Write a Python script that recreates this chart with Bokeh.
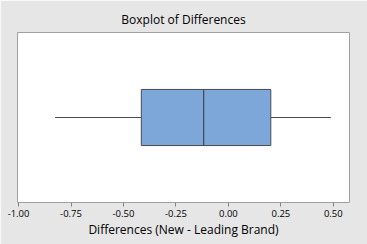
from bokeh.plotting import figure
from bokeh.models import Range1d, FixedTicker
from bokeh.embed import file_html
from bokeh.resources import INLINE

# data
whisker_low = [-0.826]
q1 = [-0.415]
median = [-0.118]
q3 = [0.202]
whisker_high = [0.488]
ypos = [0.5]
ticks = [-1.0, -0.75, -0.5, -0.25, 0.0, 0.25, 0.5]
tick_labels = {-1.0: "-1.00", -0.75: "-0.75", -0.5: "-0.50", -0.25: "-0.25",
               0.0: "0.00", 0.25: "0.25", 0.5: "0.50"}

p = figure(width=367, height=244, output_backend="svg", toolbar_location=None,
           x_range=Range1d(-1.005, 0.577), y_range=Range1d(0, 1),
           min_border_left=17, min_border_right=18, min_border_top=32, min_border_bottom=42)

p.background_fill_color = "white"
p.border_fill_color = "#e6e6e6"
p.outline_line_color = "#a0a0a0"
p.outline_line_width = 1
p.grid.visible = False
p.yaxis.visible = False

p.title.text = "Boxplot of Differences"
p.title.align = "center"
p.title.text_font = "Open Sans"
p.title.text_font_size = "12px"
p.title.text_font_style = "normal"
p.title.text_color = "#000000"
p.title.offset = 0

# whiskers
p.segment(x0=whisker_low, y0=ypos, x1=q1, y1=ypos, line_color="#4a4a50", line_width=1)
p.segment(x0=q3, y0=ypos, x1=whisker_high, y1=ypos, line_color="#4a4a50", line_width=1)
# box
p.hbar(y=ypos, left=q1, right=q3, height=0.33, fill_color="#7da7d9",
       line_color="#4a4a50", line_width=1)
# median
p.hbar(y=ypos, left=median, right=median, height=0.33, fill_alpha=0,
       line_color="#4a4a50", line_width=1)

ax = p.xaxis[0]
ax.ticker = FixedTicker(ticks=ticks)
ax.major_label_overrides = tick_labels
ax.axis_label = "Differences (New - Leading Brand)"
ax.axis_label_text_font = "Open Sans"
ax.axis_label_text_font_size = "12px"
ax.axis_label_text_font_style = "normal"
ax.axis_label_text_color = "#000000"
ax.axis_label_standoff = 1
ax.major_label_text_font = "Open Sans"
ax.major_label_text_font_size = "9.5px"
ax.major_label_text_color = "#000000"
ax.major_label_standoff = 3
ax.axis_line_color = None
ax.major_tick_line_color = "#808080"
ax.major_tick_out = 4
ax.major_tick_in = 0
ax.minor_tick_line_color = None

open("out.html", "w").write(file_html(p, INLINE))
